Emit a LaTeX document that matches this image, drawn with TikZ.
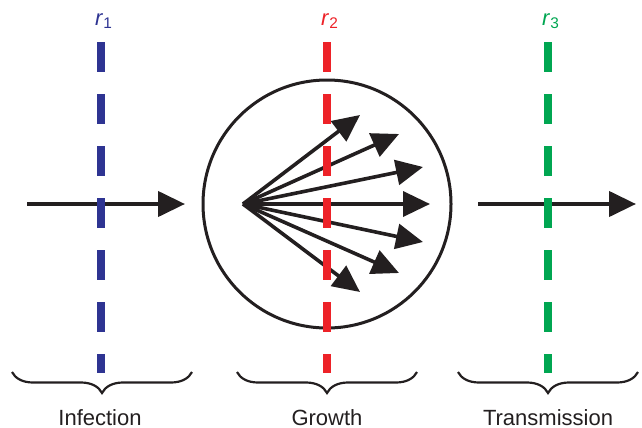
\documentclass[tikz,border=0pt]{standalone}
\usepackage{fontspec}
\setmainfont{Liberation Sans}
\usetikzlibrary{arrows.meta,decorations.pathreplacing}
\definecolor{bleu}{RGB}{46,52,146}
\definecolor{rouge}{RGB}{237,34,40}
\definecolor{vert}{RGB}{0,166,81}
\definecolor{noir}{RGB}{35,31,32}
\tikzset{fleche/.style={
    -{Triangle[length=13.5pt,width=12.5pt]},
    line width=2.1pt,
    noir}}
\tikzset{seuil/.style={
    line width=4pt,
    dash pattern=on 15pt off 11pt}}
\tikzset{accolade/.style={
    decorate,
    decoration={brace,mirror,amplitude=10.5pt},
    line width=1.1pt,
    noir}}
\tikzset{etiq/.style={
    font=\fontsize{11}{13}\selectfont}}

\begin{document}
\begin{tikzpicture}[x=0.5pt,y=-0.5pt]
\useasboundingbox (0,0) rectangle (642,428);

  % infection
  \coordinate (A1) at (27,204);
  \coordinate (A2) at (185,204);
  \draw[fleche] (A1) -- (A2);

  % croissance
  \node[circle,draw=noir,line width=1.5pt,minimum size=124pt,inner sep=0pt] (cellule) at (327,204) {};
  \coordinate (O) at (243,204);
  \foreach \x/\y [count=\i] in {360/115,399/134,423/167,430/204,423/242,399/273,360/292}
    \coordinate (T\i) at (\x,\y);
  \foreach \i in {1,...,7}
    \draw[fleche,line width=1.8pt] (O) -- (T\i);

  % transmission
  \coordinate (B1) at (478,204);
  \coordinate (B2) at (636,204);
  \draw[fleche] (B1) -- (B2);

  % seuils
  \coordinate (H1) at (101,42);  \coordinate (L1) at (101,373);
  \coordinate (H2) at (327,42);  \coordinate (L2) at (327,373);
  \coordinate (H3) at (548,42);  \coordinate (L3) at (548,373);
  \draw[seuil,bleu] (H1) -- (L1);
  \draw[seuil,rouge] (H2) -- (L2);
  \draw[seuil,vert] (H3) -- (L3);
  \node[etiq,bleu] (r1) at (104,21) {\textit{r}\textsubscript{1}};
  \node[etiq,rouge] (r2) at (330,21) {\textit{r}\textsubscript{2}};
  \node[etiq,vert] (r3) at (551,21) {\textit{r}\textsubscript{3}};

  % accolades
  \draw[accolade] (12,372) -- (192,372);
  \draw[accolade] (237,372) -- (417,372);
  \draw[accolade] (458,372) -- (638,372);
  \node[etiq,noir] (infection) at (100,418) {Infection};
  \node[etiq,noir] (growth) at (327,418) {Growth};
  \node[etiq,noir] (transmission) at (548,418) {Transmission};
\end{tikzpicture}
\end{document}
